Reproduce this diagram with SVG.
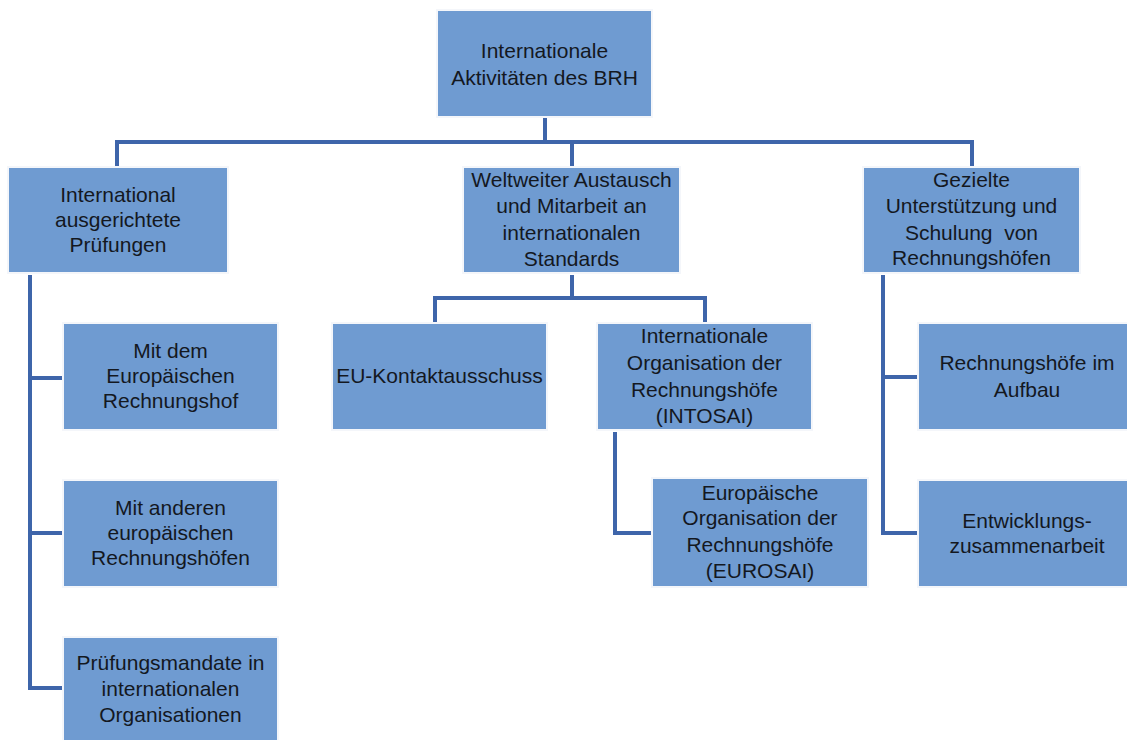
<svg xmlns="http://www.w3.org/2000/svg" width="1127" height="740" viewBox="0 0 1127 740">
<style>
.box{fill:#6f9bd1;stroke:#f4f6fa;stroke-width:2}
.t{font-family:"Liberation Sans",Arial,sans-serif;font-size:21px;fill:#14181f;text-anchor:middle}
.c{fill:none;stroke:#3e65aa;stroke-width:4;stroke-linejoin:miter;stroke-linecap:butt}
</style>
<rect width="1127" height="740" fill="#ffffff"/>
<g id="connectors">
<path class="c" d="M545 117V142M117 169V142H972V169M572 142V169"/>
<path class="c" d="M30 275V688H63M30 378H63M30 533H63"/>
<path class="c" d="M572 275V298M435 325V298H705V325"/>
<path class="c" d="M615 432V533H652"/>
<path class="c" d="M883 275V533H918M883 377H918"/>
</g>
<g id="root"><rect class="box" x="437" y="10" width="215" height="107"/>
<text class="t" x="544.5" y="58">Internationale</text><text class="t" x="544.5" y="85">Aktivitäten des BRH</text></g>
<g id="l1"><rect class="box" x="8" y="167" width="220" height="106"/>
<text class="t" x="118" y="202">International</text><text class="t" x="118" y="227">ausgerichtete</text><text class="t" x="118" y="252">Prüfungen</text></g>
<g id="l2"><rect class="box" x="63" y="323" width="215" height="107"/>
<text class="t" x="170.5" y="358">Mit dem</text><text class="t" x="170.5" y="383">Europäischen</text><text class="t" x="170.5" y="408">Rechnungshof</text></g>
<g id="l3"><rect class="box" x="63" y="480" width="215" height="107"/>
<text class="t" x="170.5" y="515">Mit anderen</text><text class="t" x="170.5" y="540">europäischen</text><text class="t" x="170.5" y="565">Rechnungshöfen</text></g>
<g id="l4"><rect class="box" x="63" y="637" width="215" height="107"/>
<text class="t" x="170.5" y="670">Prüfungsmandate in</text><text class="t" x="170.5" y="696">internationalen</text><text class="t" x="170.5" y="722">Organisationen</text></g>
<g id="m1"><rect class="box" x="463" y="167" width="217" height="106"/>
<text class="t" x="571.5" y="187">Weltweiter Austausch</text><text class="t" x="571.5" y="213">und Mitarbeit an</text><text class="t" x="571.5" y="240">internationalen</text><text class="t" x="571.5" y="266">Standards</text></g>
<g id="m2"><rect class="box" x="332" y="323" width="215" height="107"/>
<text class="t" x="439.5" y="383">EU-Kontaktausschuss</text></g>
<g id="m3"><rect class="box" x="597" y="323" width="215" height="107"/>
<text class="t" x="704.5" y="343">Internationale</text><text class="t" x="704.5" y="370">Organisation der</text><text class="t" x="704.5" y="397">Rechnungshöfe</text><text class="t" x="704.5" y="423">(INTOSAI)</text></g>
<g id="m4"><rect class="box" x="652" y="478" width="216" height="109"/>
<text class="t" x="760" y="500">Europäische</text><text class="t" x="760" y="525">Organisation der</text><text class="t" x="760" y="552">Rechnungshöfe</text><text class="t" x="760" y="578">(EUROSAI)</text></g>
<g id="r1"><rect class="box" x="863" y="167" width="217" height="106"/>
<text class="t" x="971.5" y="187">Gezielte</text><text class="t" x="971.5" y="213">Unterstützung und</text><text class="t" x="971.5" y="240" xml:space="preserve">Schulung  von</text><text class="t" x="971.5" y="265">Rechnungshöfen</text></g>
<g id="r2"><rect class="box" x="918" y="323" width="218" height="107"/>
<text class="t" x="1027" y="370">Rechnungshöfe im</text><text class="t" x="1027" y="397">Aufbau</text></g>
<g id="r3"><rect class="box" x="918" y="480" width="218" height="107"/>
<text class="t" x="1027" y="528">Entwicklungs-</text><text class="t" x="1027" y="553">zusammenarbeit</text></g>
</svg>
